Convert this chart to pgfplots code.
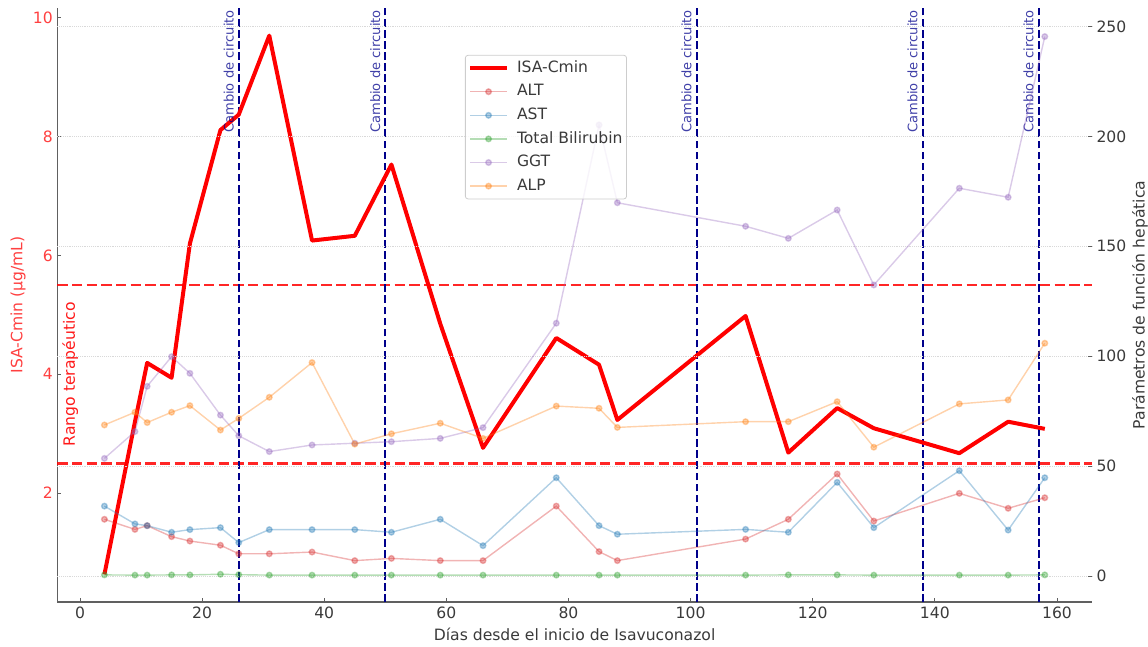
\documentclass[border=0pt]{standalone}
\usepackage{fontspec}
\setmainfont{DejaVu Sans}
\usepackage{pgfplots}
\pgfplotsset{compat=1.18}
\definecolor{tabred}{HTML}{D62728}
\definecolor{tabblue}{HTML}{1F77B4}
\definecolor{tabgreen}{HTML}{2CA02C}
\definecolor{tabpurple}{HTML}{9467BD}
\definecolor{taborange}{HTML}{FF7F0E}
\definecolor{navyline}{rgb}{0,0,0.545}
\definecolor{isared}{rgb}{1,0.25,0.25}
\definecolor{labelgray}{HTML}{3A3A3A}
\definecolor{spine}{HTML}{606060}
\definecolor{legframe}{HTML}{CDCDCD}
\newcommand{\fs}{\fontsize{11.7}{14}\selectfont}
\newcommand{\fss}{\fontsize{9.8}{12}\selectfont}
\begin{document}
\begin{tikzpicture}
\pgfplotsset{
  every axis/.append style={
    scale only axis, width=775.8pt, height=445.5pt,
    xmin=-3.7, xmax=165.7,
    tick align=inside, major tick length=3pt,
    /pgf/number format/assume math mode=true,
    tick label style={font=\fs},
    every tick/.style={draw=spine, line width=0.6pt},
    every inner x axis line/.append style={-},
    every outer x axis line/.append style={-},
    every inner y axis line/.append style={-},
    every outer y axis line/.append style={-},
  },
}
% ---------------- left axis: ISA-Cmin ----------------
\begin{axis}[
  axis y line*=left, axis x line*=bottom,
  axis line style={-, draw=spine, line width=0.8pt},
  ymin=0.165, ymax=10.165,
  ytick={2,4,6,8,10},
  xtick={0,20,40,60,80,100,120,140,160},
  yticklabel style={text=isared},
  xticklabel style={text=labelgray},
  xlabel={Días desde el inicio de Isavuconazol},
  ylabel={ISA-Cmin (µg/mL)},
  every axis x label/.style={at={(axis description cs:0.5,-0.0539)}, anchor=center, font=\fs, text=labelgray},
  every axis y label/.style={at={(axis description cs:-0.0381,0.5)}, rotate=90, anchor=center, font=\fs, text=isared},
  clip=false,
]
% therapeutic range
\addplot[red, opacity=0.85, line width=2.05pt, dash pattern=on 7.7pt off 3.3pt] coordinates {(-3.7,5.5) (165.7,5.5)};
\addplot[red, opacity=0.85, line width=2.05pt, dash pattern=on 7.7pt off 3.3pt] coordinates {(-3.7,2.5) (165.7,2.5)};
% circuit changes
\addplot[navyline, line width=1.6pt, dash pattern=on 5.8pt off 2.5pt] coordinates {(26,0.165) (26,10.165)};
\addplot[navyline, line width=1.6pt, dash pattern=on 5.8pt off 2.5pt] coordinates {(50,0.165) (50,10.165)};
\addplot[navyline, line width=1.6pt, dash pattern=on 5.8pt off 2.5pt] coordinates {(101,0.165) (101,10.165)};
\addplot[navyline, line width=1.6pt, dash pattern=on 5.8pt off 2.5pt] coordinates {(138,0.165) (138,10.165)};
\addplot[navyline, line width=1.6pt, dash pattern=on 5.8pt off 2.5pt] coordinates {(157,0.165) (157,10.165)};
% ISA-Cmin
\addplot[red, line width=3pt, line join=round] coordinates {
 (4,0.63) (9,3.2) (11,4.19) (15,3.94) (18,6.2) (23,8.11) (26,8.37) (31,9.70)
 (38,6.25) (45,6.33) (51,7.53) (59,4.85) (66,2.76) (78,4.61) (85,4.16) (88,3.23)
 (109,4.98) (116,2.68) (124,3.43) (130,3.09) (144,2.67) (152,3.20) (158,3.08)};
\foreach \d in {26,50,101,138,157}{
  \edef\tmp{\noexpand\node[rotate=90, anchor=south east, inner sep=0pt, font=\noexpand\fss, text=navyline, text opacity=0.75, xshift=-1.5pt, yshift=3.6pt] at (axis cs:\d,10.165) {Cambio de circuito};}
  \tmp
}
\node[rotate=90, anchor=center, inner sep=0pt, font=\fs, text=red, text opacity=0.9] at (axis cs:-1.6,4.0) {Rango terapéutico};
\end{axis}
% ---------------- right axis: liver parameters ----------------
\begin{axis}[
  axis y line*=right, axis x line=none,
  axis line style={draw=none},
  ymin=-11.83, ymax=258.4,
  ytick={0,50,100,150,200,250},
  ymajorgrids, grid style={densely dotted, gray!30, line width=0.6pt},
  yticklabel style={text=labelgray},
  ylabel={Parámetros de función hepática},
  every axis y label/.style={at={(axis description cs:1.0465,0.5)}, rotate=90, anchor=center, font=\fs, text=labelgray},
  every axis plot/.append style={line width=1.05pt, mark=*, mark size=2.1pt, opacity=0.35},
  legend style={at={(axis description cs:0.394,0.921)}, anchor=north west,
    draw=legframe, line width=0.6pt, fill=white, fill opacity=0.8, text opacity=1,
    rounded corners=2pt, font=\fs, text=labelgray, inner xsep=2pt, inner ysep=3pt,
    row sep=4.5pt,
    nodes={inner sep=1pt, text height=8.8pt, text depth=2.4pt}},
  legend cell align=left,
  legend image code/.code={\draw[mark repeat=2,mark phase=2] plot coordinates {(0pt,0pt) (13.9pt,0pt) (27.75pt,0pt)};},
  /tikz/every odd column/.append style={column sep=5pt},
]
\addlegendimage{red, line width=3pt, opacity=1, mark=none}
\addlegendentry{ISA-Cmin}
\addplot[tabred] coordinates {
 (4,25.8) (9,21.2) (11,22.9) (15,17.9) (18,15.9) (23,14.0) (26,10.1) (31,10.1)
 (38,10.9) (45,7.0) (51,8.0) (59,7.0) (66,7.0) (78,31.8) (85,11.1) (88,7.0)
 (109,16.8) (116,25.8) (124,46.4) (130,25.0) (144,37.6) (152,30.8) (158,35.6)};
\addlegendentry{ALT}
\addplot[tabblue] coordinates {
 (4,31.8) (9,23.7) (11,22.9) (15,19.9) (18,21.1) (23,22.0) (26,15.2) (31,21.1)
 (38,21.1) (45,21.1) (51,19.9) (59,25.8) (66,13.8) (78,44.7) (85,22.9) (88,19.0)
 (109,21.2) (116,19.9) (124,42.6) (130,22.0) (144,47.9) (152,20.9) (158,44.7)};
\addlegendentry{AST}
\addplot[tabgreen] coordinates {
 (4,0.5) (9,0.4) (11,0.4) (15,0.5) (18,0.5) (23,0.8) (26,0.6) (31,0.4)
 (38,0.4) (45,0.4) (51,0.4) (59,0.4) (66,0.4) (78,0.4) (85,0.4) (88,0.4)
 (109,0.4) (116,0.5) (124,0.5) (130,0.4) (144,0.4) (152,0.4) (158,0.5)};
\addlegendentry{Total Bilirubin}
\addplot[tabpurple] coordinates {
 (4,53.5) (9,65.7) (11,86.3) (15,99.8) (18,92.2) (23,73.2) (26,63.8) (31,56.6)
 (38,59.6) (45,60.4) (51,61.1) (59,62.6) (66,67.5) (78,115.0) (85,205.2) (88,169.8)
 (109,159.1) (116,153.6) (124,166.5) (130,132.4) (144,176.4) (152,172.3) (158,245.4)};
\addlegendentry{GGT}
\addplot[taborange] coordinates {
 (4,68.7) (9,74.5) (11,69.8) (15,74.5) (18,77.5) (23,66.4) (26,71.7) (31,81.3)
 (38,97.1) (45,60.0) (51,64.7) (59,69.5) (66,62.6) (78,77.3) (85,76.3) (88,67.6)
 (109,70.2) (116,70.2) (124,79.3) (130,58.6) (144,78.3) (152,80.1) (158,105.9)};
\addlegendentry{ALP}
\end{axis}
\pgfresetboundingbox
\path (-43.05pt,-33pt) rectangle (817.95pt,451.5pt);
\end{tikzpicture}
\end{document}
